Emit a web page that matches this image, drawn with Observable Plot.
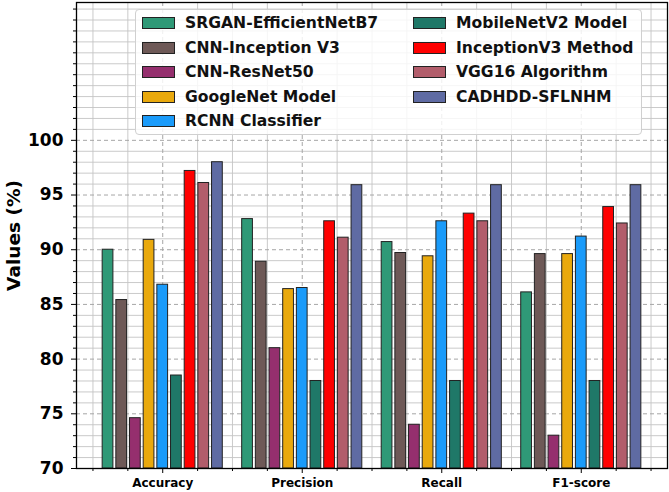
<!DOCTYPE html>
<html>
<head>
<meta charset="utf-8">
<script src="https://cdn.jsdelivr.net/npm/d3@7"></script>
<script src="https://cdn.jsdelivr.net/npm/@observablehq/plot@0.6"></script>
<style>
  html, body { margin: 0; padding: 0; background: #fff; }
  #wrap { position: relative; width: 669px; height: 492px; font-family: "DejaVu Sans", sans-serif; }
  #legend { position: absolute; left: 135px; top: 9px; width: 507px; height: 126px;
    background: rgba(255,255,255,0.82); border: 1px solid #d0d0d0; border-radius: 4px; box-sizing: border-box; }
  .item { position: absolute; height: 18px; display: flex; align-items: center; font-weight: bold; font-size: 15.6px; color: #111; white-space: nowrap; }
  .sw { width: 31px; height: 10px; border: 1px solid #222; margin-right: 10px; flex: none; }
</style>
</head>
<body>
<div id="wrap"><div id="legend"></div></div>
<script>
const categories = ["Accuracy", "Precision", "Recall", "F1-score"];
const models = ["SRGAN-EfficientNetB7", "CNN-Inception V3", "CNN-ResNet50", "GoogleNet Model", "RCNN Classifier",
                "MobileNetV2 Model", "InceptionV3 Method", "VGG16 Algorithm", "CADHDD-SFLNHM"];
const colors = ["#2f9977", "#6e5957", "#952f6e", "#e9a90d", "#1a9bfa", "#1f7868", "#ff0000", "#b25d6b", "#5f6ba3"];
const accuracy  = [90.0, 85.4, 74.6, 90.9, 86.8, 78.5, 97.2, 96.1, 98.0];
const precision = [92.8, 88.9, 81.0, 86.4, 86.5, 78.0, 92.6, 91.1, 95.9];
const recall    = [90.7, 89.7, 74.0, 89.4, 92.6, 78.0, 93.3, 92.6, 95.9];
const f1score   = [86.1, 89.6, 73.0, 89.6, 91.2, 78.0, 93.9, 92.4, 95.9];
const yMajorTicks = [70, 75, 80, 85, 90, 95, 100];
const series = [accuracy, precision, recall, f1score];

const pitch = 0.098, barW = 0.077, base = 70;
const data = [];
series.forEach((vals, ci) => vals.forEach((v, mi) => data.push({
  cat: categories[ci], model: models[mi], value: v, xc: ci + (mi - (models.length - 1) / 2) * pitch
})));

const yMinor = d3.range(70, 113, 1).filter(v => !yMajorTicks.includes(v));
const xMajor = categories.map((_, i) => i);
const xMinor = d3.range(-0.5, 3.51, 0.25).filter(v => !Number.isInteger(v));

const chart = Plot.plot({
  width: 669, height: 492,
  marginLeft: 76, marginRight: 2, marginTop: 2, marginBottom: 24,
  style: { fontFamily: "DejaVu Sans, sans-serif", fontWeight: "bold", fontSize: "12px", background: "white" },
  x: { type: "linear", domain: [-0.618, 3.618] },
  y: { domain: [70, 112.6] },
  color: { domain: models, range: colors },
  marks: [
    Plot.ruleY(yMinor, { stroke: "#c4c4c4", strokeWidth: 0.9 }),
    Plot.ruleX(xMinor, { stroke: "#c4c4c4", strokeWidth: 0.9 }),
    Plot.ruleY(yMajorTicks, { stroke: "#a6a6a6", strokeWidth: 1, strokeDasharray: "4,3" }),
    Plot.ruleX(xMajor, { stroke: "#a6a6a6", strokeWidth: 1, strokeDasharray: "4,3" }),
    Plot.rectY(data, {
      x1: d => d.xc - barW / 2, x2: d => d.xc + barW / 2,
      y1: base, y2: "value", fill: "model", stroke: "#222", strokeWidth: 1
    }),
    Plot.axisY({ ticks: yMajorTicks, tickSize: 5, tickPadding: 8, fontSize: 17, label: null, tickFormat: d => d }),
    Plot.axisY({ ticks: yMinor, tickSize: 3, tickFormat: () => "", label: null }),
    Plot.axisX({ ticks: xMajor, tickSize: 5, tickPadding: 5, fontSize: 12, label: null, tickFormat: i => categories[i] }),
    Plot.axisX({ ticks: xMinor, tickSize: 3, tickFormat: () => "", label: null }),
    Plot.text(["Values (%)"], { frameAnchor: "left", textAnchor: "middle", dx: -62, rotate: -90, fontSize: 18.5, fontWeight: "bold", fill: "black" }),
    Plot.frame({ stroke: "black", strokeWidth: 1.3 })
  ]
});
document.getElementById("wrap").prepend(chart);

const legend = document.getElementById("legend");
const rowsPerCol = 5;
models.forEach((m, i) => {
  const col = Math.floor(i / rowsPerCol), row = i % rowsPerCol;
  const el = document.createElement("div");
  el.className = "item";
  el.style.left = (col === 0 ? 6 : 277) + "px";
  el.style.top = (23 - 9 - 1 - 9 + row * 24.5) + "px";
  const sw = document.createElement("span");
  sw.className = "sw";
  sw.style.background = colors[i];
  el.appendChild(sw);
  el.appendChild(document.createTextNode(m));
  legend.appendChild(el);
});
</script>
</body>
</html>
